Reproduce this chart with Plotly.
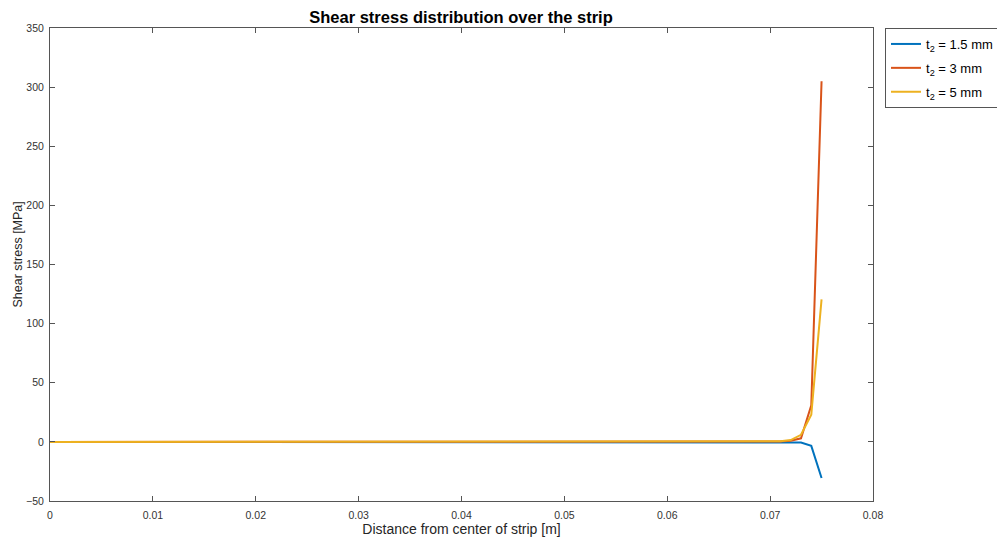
import plotly.graph_objects as go

# x positions [m]
x_m = [i / 1000 for i in range(76)]

tail_x = [0.068, 0.069, 0.070, 0.071, 0.072, 0.073, 0.074, 0.075]
blue_tail = [0.0, 0.0, 0.0, -0.05, -0.15, -0.5, -3.4, -30.5]
red_tail = [0.0, 0.02, 0.1, 0.3, 1.0, 3.0, 31.0, 305.0]
yellow_tail = [0.02, 0.06, 0.2, 0.5, 1.5, 6.0, 23.0, 120.5]

flat_zero = [0.0] * 68  # flat part before x = 0.068 (all ~0 MPa)

tau_15 = flat_zero + blue_tail
tau_3 = flat_zero + red_tail
tau_5 = flat_zero + yellow_tail

names = ["t<sub>2</sub> = 1.5 mm", "t<sub>2</sub> = 3 mm", "t<sub>2</sub> = 5 mm"]
colors = ["#0072BD", "#D95319", "#EDB120"]
series = [tau_15, tau_3, tau_5]

x_ticks = [0, 0.01, 0.02, 0.03, 0.04, 0.05, 0.06, 0.07, 0.08]
x_tick_text = ["0", "0.01", "0.02", "0.03", "0.04", "0.05", "0.06", "0.07", "0.08"]
y_ticks = [-50, 0, 50, 100, 150, 200, 250, 300, 350]

fig = go.Figure()
for i, (name, col, ys) in enumerate(zip(names, colors, series)):
    fig.add_trace(go.Scatter(x=x_m, y=ys, mode="lines", name=name, legendgroup=f"g{i}",
                             line=dict(color=col, width=2)))

font_family = "Liberation Sans, Arial, Helvetica, sans-serif"
axis_common = dict(showline=True, linecolor="#555555", linewidth=1, mirror="ticks",
                   ticks="inside", ticklen=5, tickcolor="#555555", showgrid=False,
                   zeroline=False, automargin=False,
                   tickfont=dict(size=10.5, color="#333333"))

# the page body has an 8px margin, so the figure sits 8px right and down
fig.update_layout(
    width=997, height=532,
    margin=dict(l=42, r=132, t=20, b=39, autoexpand=False),
    paper_bgcolor="white", plot_bgcolor="white",
    font=dict(family=font_family, color="#262626"),
    title=dict(text="<b>Shear stress distribution over the strip</b>", x=453 / 997,
               xanchor="center", y=1 - 9 / 532, yanchor="middle",
               font=dict(size=16.5, color="#000000")),
    xaxis=dict(range=[0, 0.08], tickvals=x_ticks, ticktext=x_tick_text,
               ticklabelstandoff=4,
               title=dict(text="Distance from center of strip [m]", standoff=2,
                          font=dict(size=14, color="#262626")),
               **axis_common),
    yaxis=dict(range=[-50, 350], tickvals=y_ticks, ticklabelstandoff=3, **axis_common),
    legend=dict(x=1 + (885 - 873) / 823, y=1.0, xanchor="left", yanchor="top",
                bordercolor="#555555", borderwidth=1, bgcolor="white",
                font=dict(size=13, color="#000000"), tracegroupgap=4,
                itemwidth=30),
    showlegend=True,
    annotations=[dict(text="Shear stress [MPa]", textangle=-90, showarrow=False,
                      xref="paper", yref="paper", x=(17.5 - 50) / 823, y=(501 - 255) / 473,
                      xanchor="center", yanchor="middle",
                      font=dict(size=12.5, color="#262626"))],
)

fig.write_html("out.html")
